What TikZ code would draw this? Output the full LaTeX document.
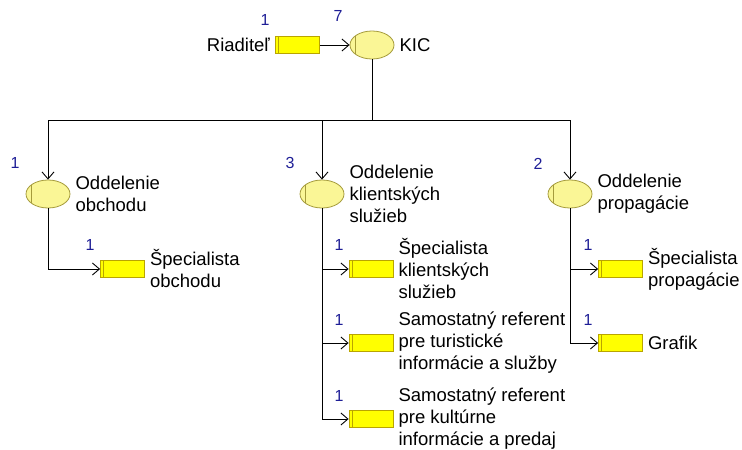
\documentclass[tikz,border=0pt]{standalone}
\usepackage{fontspec}
\setmainfont{Liberation Sans}
\usetikzlibrary{shapes.geometric,arrows.meta}
\definecolor{ellfill}{RGB}{250,246,150}
\definecolor{elldraw}{RGB}{165,155,60}
\definecolor{recfill}{RGB}{255,255,0}
\definecolor{recdraw}{RGB}{185,165,0}
\definecolor{numblue}{RGB}{30,30,150}
\begin{document}
\begin{tikzpicture}[x=1pt,y=-1pt,
  unit/.style={ellipse, draw=elldraw, fill=ellfill, minimum width=44pt, minimum height=28pt, inner sep=0pt, line width=0.8pt,
    path picture={\draw[elldraw, line width=0.8pt] ([xshift=5pt]path picture bounding box.north west) -- ([xshift=5pt]path picture bounding box.south west);}},
  posbox/.style={rectangle, draw=recdraw, fill=recfill, minimum width=44pt, minimum height=17pt, inner sep=0pt, line width=0.8pt,
    path picture={\draw[recdraw, line width=0.8pt] ([xshift=3pt]path picture bounding box.north west) -- ([xshift=3pt]path picture bounding box.south west);}},
  lbl/.style={font=\fontsize{18.5}{22}\selectfont, inner sep=0pt, align=left, anchor=west},
  num/.style={font=\fontsize{16}{18}\selectfont, text=numblue, inner sep=0pt},
  conn/.style={line width=0.9pt},
  arr/.style={conn, -{Straight Barb[length=7pt,width=12pt]}}]
\useasboundingbox (0,0) rectangle (742,450);

% top
\node[posbox] (rd) at (297.5,45) {};
\node[unit] (kic) at (372,45) {};
\node[lbl, anchor=east] (rdt) at ([xshift=-5pt]rd.west) {Riaditeľ};
\node[lbl] (kict) at ([xshift=5pt]kic.east) {KIC};
\node[num] (n1) at (265,20) {1};
\node[num] (n7) at (338,16) {7};

% departments
\node[unit] (oo) at (48,194) {};
\node[unit] (ok) at (322,194) {};
\node[unit] (op) at (570,194) {};
\node[lbl] (oot) at ([xshift=5pt]oo.east) {Oddelenie\\obchodu};
\node[lbl] (okt) at ([xshift=5pt]ok.east) {Oddelenie\\klientských\\služieb};
\node[lbl] (opt) at ([xshift=5pt]op.east) {Oddelenie\\propagácie};
\node[num] (noo) at (15,163) {1};
\node[num] (nok) at (290,163) {3};
\node[num] (nop) at (538,164) {2};

% positions
\node[posbox] (so) at (122.5,269) {};
\node[posbox] (sk) at (371,269) {};
\node[posbox] (st) at (371,343) {};
\node[posbox] (sv) at (371,419) {};
\node[posbox] (sp) at (620.5,269) {};
\node[posbox] (sg) at (620.5,343) {};
\node[lbl] (sot) at ([xshift=5pt]so.east) {Špecialista\\obchodu};
\node[lbl] (skt) at ([xshift=5pt]sk.east) {Špecialista\\klientských\\služieb};
\node[lbl] (stt) at ([xshift=5pt]st.east) {Samostatný referent\\pre turistické\\informácie a služby};
\node[lbl] (svt) at ([xshift=5pt]sv.east) {Samostatný referent\\pre kultúrne\\informácie a predaj};
\node[lbl] (spt) at ([xshift=5pt]sp.east) {Špecialista\\propagácie};
\node[lbl] (sgt) at ([xshift=5pt]sg.east) {Grafik};
\node[num] (nso) at (90,245) {1};
\node[num] (nsk) at (339,245) {1};
\node[num] (nst) at (339,320) {1};
\node[num] (nsv) at (339,396) {1};
\node[num] (nsp) at (588,245) {1};
\node[num] (nsg) at (588,320) {1};

% connectors
\coordinate (bus) at (0,120);
\draw[arr] (rd.east) -- (kic.west);
\draw[conn] (kic.south) -- (kic.south |- bus);
\draw[arr] (kic.south |- bus) -| (oo.north);
\draw[arr] (kic.south |- bus) -| (op.north);
\draw[arr] (ok.north |- bus) -- (ok.north);
\draw[arr] (oo.south) |- (so.west);
\draw[arr] (ok.south) |- (sk.west);
\draw[arr] (ok.south) |- (st.west);
\draw[arr] (ok.south) |- (sv.west);
\draw[arr] (op.south) |- (sp.west);
\draw[arr] (op.south) |- (sg.west);
\end{tikzpicture}
\end{document}
